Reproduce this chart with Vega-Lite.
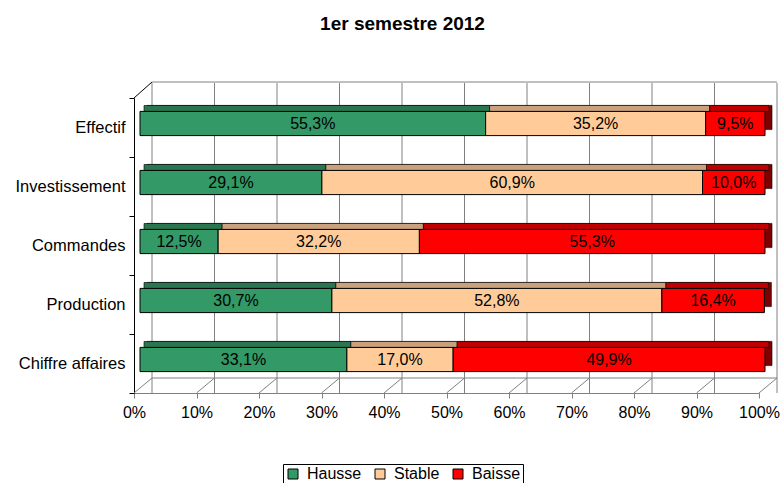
{
  "$schema": "https://vega.github.io/schema/vega-lite/v6.json",
  "width": 625,
  "height": 295,
  "autosize": "none",
  "padding": {"left": 134, "top": 98, "right": 24, "bottom": 90},
  "background": "white",
  "title": {"text": "1er semestre 2012", "fontSize": 19, "fontWeight": "bold", "font": "Liberation Sans", "anchor": "middle", "dx": -44, "offset": 48, "color": "black"},
  "config": {"view": {"stroke": null}, "font": "Liberation Sans"},
  "datasets": {
    "pct": [{"v": 0}, {"v": 10}, {"v": 20}, {"v": 30}, {"v": 40}, {"v": 50}, {"v": 60}, {"v": 70}, {"v": 80}, {"v": 90}, {"v": 100}],
    "one": [{}],
    "bars": [
      {"cat": "Effectif", "s": "Hausse", "v": 55.3},
      {"cat": "Effectif", "s": "Stable", "v": 35.2},
      {"cat": "Effectif", "s": "Baisse", "v": 9.5},
      {"cat": "Investissement", "s": "Hausse", "v": 29.1},
      {"cat": "Investissement", "s": "Stable", "v": 60.9},
      {"cat": "Investissement", "s": "Baisse", "v": 10.0},
      {"cat": "Commandes", "s": "Hausse", "v": 12.5},
      {"cat": "Commandes", "s": "Stable", "v": 32.2},
      {"cat": "Commandes", "s": "Baisse", "v": 55.3},
      {"cat": "Production", "s": "Hausse", "v": 30.7},
      {"cat": "Production", "s": "Stable", "v": 52.8},
      {"cat": "Production", "s": "Baisse", "v": 16.4},
      {"cat": "Chiffre affaires", "s": "Hausse", "v": 33.1},
      {"cat": "Chiffre affaires", "s": "Stable", "v": 17.0},
      {"cat": "Chiffre affaires", "s": "Baisse", "v": 49.9}
    ]
  },
  "layer": [
    {
      "data": {"name": "pct"},
      "mark": {"type": "rule", "color": "#808080", "strokeWidth": 1, "xOffset": 18, "yOffset": -15, "y2Offset": -16},
      "encoding": {
        "x": {"field": "v", "type": "quantitative", "title": null, "scale": {"domain": [0, 100], "nice": false}}
      }
    },
    {
      "data": {"name": "one"},
      "mark": {"type": "rule", "color": "#808080", "strokeWidth": 1, "xOffset": 18, "x2Offset": 18, "yOffset": -16},
      "encoding": {
        "x": {"datum": 0, "type": "quantitative", "title": null, "scale": {"domain": [0, 100], "nice": false}},
        "x2": {"datum": 100},
        "y": {"datum": "Effectif", "type": "nominal", "bandPosition": 0, "title": null, "scale": {"domain": ["Effectif", "Investissement", "Commandes", "Production", "Chiffre affaires"], "paddingInner": 0, "paddingOuter": 0}}
      }
    },
    {
      "data": {"name": "one"},
      "mark": {"type": "rule", "color": "#808080", "strokeWidth": 1, "xOffset": 18, "x2Offset": 18, "yOffset": -15},
      "encoding": {
        "x": {"datum": 0, "type": "quantitative", "title": null, "scale": {"domain": [0, 100], "nice": false}},
        "x2": {"datum": 100},
        "y": {"datum": "Chiffre affaires", "type": "nominal", "bandPosition": 1, "title": null, "scale": {"domain": ["Effectif", "Investissement", "Commandes", "Production", "Chiffre affaires"], "paddingInner": 0, "paddingOuter": 0}}
      }
    },
    {
      "data": {"name": "pct"},
      "mark": {"type": "rule", "color": "#808080", "strokeWidth": 1, "x2Offset": 18, "y2Offset": -15},
      "encoding": {
        "x": {"field": "v", "type": "quantitative", "title": null, "scale": {"domain": [0, 100], "nice": false}},
        "x2": {"field": "v"},
        "y": {"datum": "Chiffre affaires", "type": "nominal", "bandPosition": 1, "title": null, "scale": {"domain": ["Effectif", "Investissement", "Commandes", "Production", "Chiffre affaires"], "paddingInner": 0, "paddingOuter": 0}},
        "y2": {"datum": "Chiffre affaires", "bandPosition": 1}
      }
    },
    {
      "data": {"name": "one"},
      "mark": {"type": "rule", "color": "black", "strokeWidth": 1, "x2Offset": 18, "y2Offset": -16},
      "encoding": {
        "x": {"datum": 0, "type": "quantitative", "title": null, "scale": {"domain": [0, 100], "nice": false}},
        "x2": {"datum": 0},
        "y": {"datum": "Effectif", "type": "nominal", "bandPosition": 0, "title": null, "scale": {"domain": ["Effectif", "Investissement", "Commandes", "Production", "Chiffre affaires"], "paddingInner": 0, "paddingOuter": 0}},
        "y2": {"datum": "Effectif", "bandPosition": 0}
      }
    },
    {
      "data": {"name": "bars"},
      "transform": [
        {"calculate": "indexof(['Hausse','Stable','Baisse'], datum.s)", "as": "ord"},
        {"stack": "v", "groupby": ["cat"], "sort": [{"field": "ord", "order": "ascending"}], "as": ["v0", "v1"]},
        {"calculate": "(datum.v0 + datum.v1) / 2", "as": "mid"},
        {"calculate": "replace(format(datum.v, '.1f'), '.', ',') + '%'", "as": "lab"}
      ],
      "encoding": {
        "y": {"field": "cat", "type": "nominal", "title": null, "scale": {"domain": ["Effectif", "Investissement", "Commandes", "Production", "Chiffre affaires"], "paddingInner": 0, "paddingOuter": 0},
          "axis": {"labelFontSize": 16.5, "labelColor": "black", "domainColor": "black", "tickColor": "black", "tickSize": 5, "tickBand": "extent", "labelPadding": 4, "grid": false, "labelFont": "Liberation Sans"}}
      },
      "layer": [
        {
          "mark": {"type": "bar", "height": {"band": 0.41}, "xOffset": 13, "x2Offset": 13, "yOffset": -10, "stroke": "black", "strokeWidth": 0.6},
          "encoding": {
            "x": {"field": "v0", "type": "quantitative", "title": null, "scale": {"domain": [0, 100], "nice": false}},
            "x2": {"field": "v1"},
            "fill": {"condition": [{"test": "datum.s === 'Hausse'", "value": "#1f5c3d"}, {"test": "datum.s === 'Stable'", "value": "#a07850"}], "value": "#800000"}
          }
        },
        {
          "mark": {"type": "bar", "height": 6, "xOffset": 10, "x2Offset": 10, "yOffset": -19, "stroke": "black", "strokeWidth": 0.6},
          "encoding": {
            "x": {"field": "v0", "type": "quantitative", "title": null, "scale": {"domain": [0, 100], "nice": false}},
            "x2": {"field": "v1"},
            "fill": {"condition": [{"test": "datum.s === 'Hausse'", "value": "#2a7650"}, {"test": "datum.s === 'Stable'", "value": "#c9a27d"}], "value": "#c00000"}
          }
        },
        {
          "mark": {"type": "bar", "height": {"band": 0.41}, "xOffset": 6, "x2Offset": 6, "yOffset": -4, "stroke": "black", "strokeWidth": 1},
          "encoding": {
            "x": {"field": "v0", "type": "quantitative", "title": null, "scale": {"domain": [0, 100], "nice": false},
              "axis": {"values": [0, 10, 20, 30, 40, 50, 60, 70, 80, 90, 100], "labelExpr": "datum.value + '%'", "labelFontSize": 16, "labelColor": "black", "labelFont": "Liberation Sans", "domainColor": "#808080", "tickColor": "#808080", "tickSize": 5, "grid": false, "labelPadding": 6, "labelFlush": false, "labelOverlap": false}},
            "x2": {"field": "v1"},
            "color": {"field": "s", "type": "nominal", "sort": ["Hausse", "Stable", "Baisse"],
              "scale": {"domain": ["Hausse", "Stable", "Baisse"], "range": ["#339966", "#ffcc99", "#ff0000"]},
              "legend": {"title": null, "orient": "none", "legendX": 149, "legendY": 366, "direction": "horizontal", "strokeColor": "black", "fillColor": "white", "padding": 2, "symbolType": "square", "symbolSize": 100, "symbolStrokeColor": "black", "symbolStrokeWidth": 1, "symbolOpacity": 1, "labelFontSize": 16, "labelColor": "black", "labelFont": "Liberation Sans", "columnPadding": 10, "labelOffset": 6}}
          }
        },
        {
          "mark": {"type": "text", "fontSize": 16, "font": "Liberation Sans", "color": "black", "xOffset": 6, "yOffset": -4, "baseline": "middle", "align": "center"},
          "encoding": {
            "x": {"field": "mid", "type": "quantitative", "title": null, "scale": {"domain": [0, 100], "nice": false}},
            "text": {"field": "lab", "type": "nominal"}
          }
        }
      ]
    }
  ]
}
